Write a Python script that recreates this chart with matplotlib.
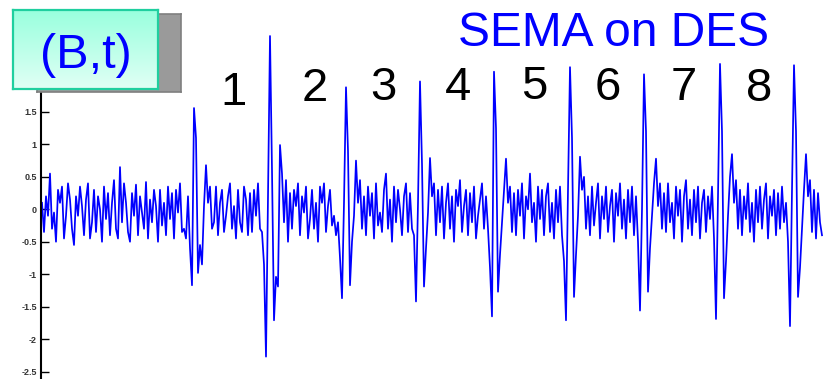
import numpy as np
import matplotlib
matplotlib.use("Agg")
import matplotlib.pyplot as plt

plt.rcParams['font.family'] = ['Liberation Sans', 'DejaVu Sans']

# power trace, one sample every ~2 px of the original picture
trace = [
    # quiet part before event 0
    0.1, -0.35, 0.2, -0.1, 0.55, -0.3, -0.05, -0.5, 0.3, 0.1,
    0.35, -0.45, -0.1, 0.4, 0.15, -0.3, -0.55, 0.2, -0.1, 0.35,
    0.05, -0.4, 0.15, 0.4, -0.45, -0.2, 0.3, -0.35, 0.2, 0.0,
    -0.5, 0.35, -0.15, 0.25, -0.4, 0.1, 0.45, -0.3, -0.45, 0.65,
    -0.2, 0.4, 0.1, -0.35, -0.5, 0.25, -0.1, 0.38, -0.4, 0.2,
    -0.05, -0.3, 0.42, -0.45, 0.15, -0.2, 0.3, 0.05, -0.5, 0.3,
    -0.25, 0.1, -0.4, 0.35, -0.15, 0.25, -0.45, 0.3, -0.05, 0.4,
    -0.35, -0.3,
    # event 0
    -0.45, 0.2, -0.6, -1.17, 1.56, 1.1, -0.98, -0.55, -0.85, 0.05,
    0.68, 0.1, 0.35, -0.3,
    # quiet
    -0.2, 0.35, -0.4, 0.1, 0.3, -0.35, -0.1, 0.2, 0.4, -0.3,
    0.05, -0.45, 0.3, -0.2, -0.35, 0.35, 0.15, -0.4, 0.25, -0.35,
    0.3, -0.1, 0.4, -0.3,
    # event 1 (large)
    -0.35, -0.85, -2.27, 0.2, 2.67, 0.6, -1.71, -1.04, -1.19, 0.99,
    0.55, -0.2, 0.45, -0.5, 0.25,
    # quiet
    -0.3, 0.3, 0.05, 0.4, -0.4, 0.2, -0.05, 0.35, -0.45, -0.15,
    0.3, -0.3, 0.1, -0.5, 0.35, 0.1, 0.4, -0.35, 0.05, 0.3,
    -0.25, -0.1, -0.4,
    # event 2
    -0.2, -0.75, -1.37, 0.1, 1.88, 0.9, -1.17, -0.5, -0.1, 0.75,
    0.1, 0.45, -0.3,
    # quiet
    0.2, -0.4, 0.35, -0.1, 0.25, -0.45, 0.4, -0.25, -0.05, -0.35,
    0.3, 0.55, -0.3, 0.15, -0.5, 0.35, -0.2, 0.3, 0.0, -0.4,
    0.2, 0.4, -0.35, 0.25, -0.3,
    # event 3
    -0.4, -1.42, 0.1, 1.97, 0.7, -1.19, -0.6, -0.05, 0.79, 0.2,
    0.4, -0.4,
    # quiet
    0.3, -0.2, 0.35, -0.45, 0.1, 0.4, -0.3, 0.2, -0.5, 0.3,
    0.05, 0.45, -0.35, 0.05, 0.3, -0.4, 0.25, -0.2, 0.35, -0.45,
    -0.1, 0.15, 0.4, -0.3, 0.2,
    # event 4
    -0.3, -0.9, -1.65, 2.12, 1.25, -1.27, -0.7, -0.2, 0.3, 0.78,
    0.1, 0.35, -0.35,
    # quiet
    0.25, -0.4, 0.3, -0.1, 0.4, -0.45, 0.2, 0.0, 0.55, -0.2,
    0.1, -0.5, 0.35, -0.15, 0.3, -0.4, 0.2, 0.4, -0.35, 0.1,
    -0.45, 0.3, -0.2, 0.35,
    # event 5
    -0.4, -0.8, -1.71, 0.3, 2.19, 1.1, -1.35, -0.7, -0.1, 0.81,
    0.3, 0.5, -0.3,
    # quiet
    0.2, -0.4, 0.35, -0.25, 0.1, 0.4, -0.45, 0.2, -0.15, 0.35,
    -0.35, 0.05, 0.3, -0.5, 0.25, -0.1, 0.4, -0.3, 0.15, -0.45,
    0.3, -0.2, 0.35, -0.4, 0.2,
    # event 6
    -0.5, -1.56, 0.0, 2.08, 1.2, -1.27, -0.6, -0.1, 0.4, 0.78,
    0.05, 0.4, -0.3,
    # quiet
    0.25, -0.35, 0.4, -0.2, 0.1, -0.45, 0.35, -0.1, 0.3, -0.5,
    0.2, 0.45, -0.3, 0.15, -0.4, 0.3, -0.2, 0.35, -0.45, 0.1,
    0.3, -0.35, 0.2, -0.15, 0.35,
    # event 7
    -0.45, -1.69, 0.2, 2.24, 1.2, -1.37, -0.8, -0.1, 0.5, 0.85,
    0.1, 0.45, -0.3,
    # quiet
    0.3, -0.4, 0.2, -0.15, 0.4, -0.35, 0.1, -0.5, 0.3, -0.2,
    0.35, -0.3, 0.15, 0.4, -0.45, 0.2, -0.1, 0.3, -0.4, 0.25,
    -0.3, 0.35, -0.2, 0.1,
    # event 8
    -0.5, -1.8, 0.3, 2.22, 1.2, -1.35, -0.9, -0.3, 0.3, 0.85,
    0.2, 0.45, -0.35, 0.3, -0.45, 0.25, -0.2, -0.4,
]

y_ticks = [-2.5, -2, -1.5, -1, -0.5, 0, 0.5, 1, 1.5]
y_tick_labels = ['-2.5', '-2', '-1.5', '-1', '-0.5', '0', '0.5', '1', '1.5']
event_labels = ['1', '2', '3', '4', '5', '6', '7', '8']
title = "SEMA on DES"
box_text = "(B,t)"

W, H = 823, 379


def fx(px):
    return px / W


def fy(py):
    return 1 - py / H


fig = plt.figure(figsize=(W / 100, H / 100), dpi=100)

ax = fig.add_axes([fx(41), 0, fx(W - 41), 1])
ax.patch.set_alpha(0)
ax.plot(np.arange(len(trace)), trace, color='#0000ff', lw=1.25)
ax.set_xlim(-0.5, len(trace) - 0.5)
ax.set_ylim(-2.615, 3.225)
for s in ['top', 'right', 'bottom']:
    ax.spines[s].set_visible(False)
ax.spines['left'].set_linewidth(1.5)
ax.spines['left'].set_bounds(-2.615, 2.2)
ax.set_xticks([])
ax.set_yticks(y_ticks, y_tick_labels)
ax.tick_params(axis='y', direction='in', length=6, width=1, pad=3,
               labelsize=6.5, labelcolor='#333333')
for t in ax.get_yticklabels():
    t.set_fontweight('bold')

# shadow behind the label box
sh = fig.add_axes([fx(37), fy(92), fx(144), 78 / H])
sh.set_facecolor('#9a9a9a')
sh.set_xticks([])
sh.set_yticks([])
for s in sh.spines.values():
    s.set_color('#7f7f7f')
    s.set_linewidth(1.2)

# label box with a mint gradient
bx = fig.add_axes([fx(13), fy(89), fx(145), 79 / H])
grad = np.linspace(0, 1, 100).reshape(-1, 1)
top_c = np.array([0.60, 1.0, 0.87])
bot_c = np.array([0.88, 1.0, 0.96])
img = top_c + grad[..., None] * (bot_c - top_c)
bx.imshow(img, aspect='auto', extent=[0, 1, 0, 1], origin='upper')
bx.set_xlim(0, 1)
bx.set_ylim(0, 1)
bx.set_xticks([])
bx.set_yticks([])
for s in bx.spines.values():
    s.set_color('#1fcf9f')
    s.set_linewidth(1.6)

fig.text(fx(85.5), fy(68.5), box_text, color='#0000ff', fontsize=35,
         ha='center', va='baseline')
fig.text(fx(614), fy(46), title, color='#0000ff', fontsize=34.5,
         ha='center', va='baseline')

label_x = [233, 315, 383.5, 458, 534.5, 608, 684, 759.5]
label_base = [105, 101, 100, 100, 99, 100, 100, 101]
for lab, lx, ly in zip(event_labels, label_x, label_base):
    fig.text(fx(lx), fy(ly), lab, color='black', fontsize=34,
             ha='center', va='baseline')

fig.savefig('out.png', dpi=100)
